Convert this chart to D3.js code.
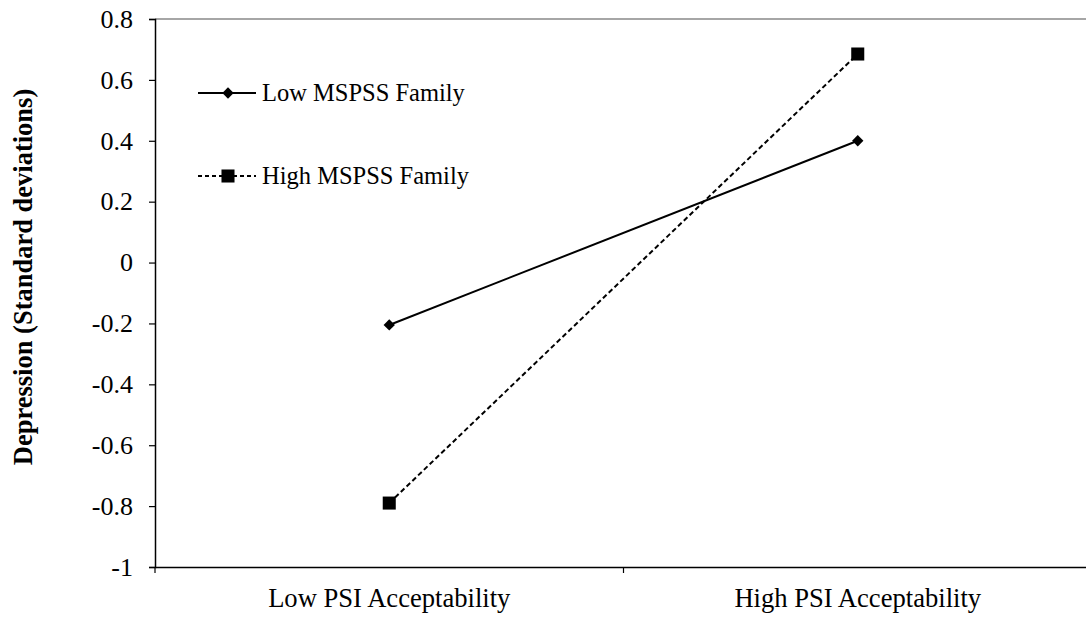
<!DOCTYPE html>
<html><head><meta charset="utf-8">
<script src="https://cdn.jsdelivr.net/npm/d3@7"></script>
<style>body{margin:0;background:#fff}svg{display:block}</style>
</head><body><svg id="c" width="1086" height="619"></svg>
<script>
const categories = ["Low PSI Acceptability", "High PSI Acceptability"];
const lowMSPSS = [-0.205, 0.40];
const highMSPSS = [-0.79, 0.685];
const seriesNames = ["Low MSPSS Family", "High MSPSS Family"];
const yTicks = [-1, -0.8, -0.6, -0.4, -0.2, 0, 0.2, 0.4, 0.6, 0.8];
const yLabel = "Depression (Standard deviations)";

const FONT = "'Liberation Serif', 'Times New Roman', 'DejaVu Serif', serif";
const svg = d3.select("#c");
const m = {l:155, r:1092, t:19, b:567};
const x = d3.scaleBand().domain(categories).range([m.l, m.r]);
const y = d3.scaleLinear().domain([-1, 0.8]).range([m.b, m.t]);
const fmt = d => String(+d.toFixed(1));

svg.append("line").attr("x1", m.l).attr("x2", m.r).attr("y1", m.t).attr("y2", m.t)
  .attr("stroke", "#888").attr("stroke-width", 1.5);

const ya = svg.append("g").attr("transform", `translate(${m.l},0)`)
  .call(d3.axisLeft(y).tickValues(yTicks).tickSize(6).tickPadding(16).tickFormat(fmt));
ya.attr("font-family", FONT);
ya.select(".domain").attr("stroke", "#000").attr("stroke-width", 1.5);
ya.selectAll(".tick line").attr("stroke", "#000").attr("stroke-width", 1.2);
ya.selectAll("text").style("font-family", FONT).style("font-size", "26px").attr("fill", "#000");

const xa = svg.append("g").attr("transform", `translate(0,${m.b})`)
  .call(d3.axisBottom(x).tickSize(0));
xa.attr("font-family", FONT);
xa.select(".domain").attr("stroke", "#000").attr("stroke-width", 1.5);
xa.selectAll("text").attr("y", 40).attr("dy", 0)
  .style("font-family", FONT).style("font-size", "26.6px").attr("fill", "#000");
const bounds = [x(categories[0]), x(categories[1]), x(categories[1]) + x.bandwidth()];
svg.selectAll(".bt").data(bounds).enter().append("line")
  .attr("x1", d => d).attr("x2", d => d).attr("y1", m.b).attr("y2", m.b + 6)
  .attr("stroke", "#000").attr("stroke-width", 1.2);

svg.append("text").attr("transform", `translate(31.5,277) rotate(-90)`)
  .attr("text-anchor", "middle")
  .style("font-family", FONT).style("font-size", "26.5px").style("font-weight", "bold").text(yLabel);

const cx = c => x(c) + x.bandwidth()/2;
const line = d3.line().x((d,i) => cx(categories[i])).y(d => y(d));

svg.append("path").datum(lowMSPSS).attr("d", line).attr("fill", "none").attr("stroke", "#000").attr("stroke-width", 2);
svg.append("path").datum(highMSPSS).attr("d", line).attr("fill", "none").attr("stroke", "#000").attr("stroke-width", 2).attr("stroke-dasharray", "5,3");

svg.selectAll(".dm").data(lowMSPSS).enter().append("path")
  .attr("d", d3.symbol().type(d3.symbolSquare).size(64))
  .attr("transform", (d,i) => `translate(${cx(categories[i])},${y(d)}) rotate(45)`).attr("fill", "#000");
svg.selectAll(".sq").data(highMSPSS).enter().append("path")
  .attr("d", d3.symbol().type(d3.symbolSquare).size(170))
  .attr("transform", (d,i) => `translate(${cx(categories[i])},${y(d)})`).attr("fill", "#000");

const lg = [{name: seriesNames[0], dash: null, y: 93, diamond: true}, {name: seriesNames[1], dash: "4,3", y: 176, diamond: false}];
lg.forEach(l => {
  svg.append("line").attr("x1", 198).attr("x2", 256).attr("y1", l.y).attr("y2", l.y)
    .attr("stroke", "#000").attr("stroke-width", 2).attr("stroke-dasharray", l.dash);
  svg.append("path").attr("d", d3.symbol().type(d3.symbolSquare).size(l.diamond ? 64 : 170))
    .attr("transform", `translate(228,${l.y})` + (l.diamond ? " rotate(45)" : "")).attr("fill", "#000");
  svg.append("text").attr("x", 262).attr("y", l.y + 8)
    .style("font-family", FONT).style("font-size", "24.5px").text(l.name);
});
</script></body></html>
